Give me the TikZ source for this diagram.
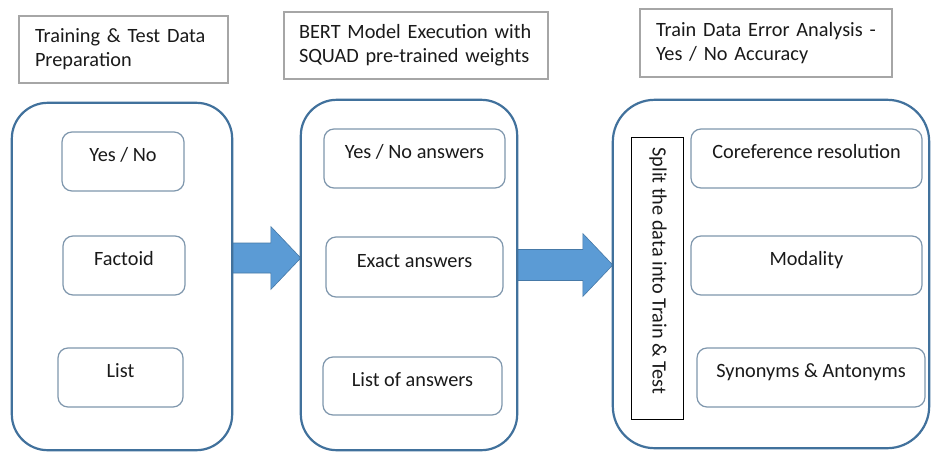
\documentclass[tikz,border=0pt]{standalone}
\usepackage{fontspec}
\setmainfont{Carlito}
\usetikzlibrary{calc}
\definecolor{contblue}{HTML}{41719C}
\definecolor{innerblue}{HTML}{7F97AD}
\definecolor{hdrgray}{HTML}{A6A6A6}
\definecolor{arrfill}{HTML}{5B9BD5}
\definecolor{txtcol}{HTML}{1A1A1A}
\tikzset{
  container/.style={draw=contblue, line width=2.2pt, rounded corners=36pt, inner sep=0pt},
  innerbox/.style={draw=innerblue, line width=1.2pt, rounded corners=10pt, inner sep=0pt},
  hdr/.style={draw=hdrgray, line width=2.4pt, inner sep=0pt, align=left, font=\fontsize{20.3}{24}\selectfont, text=txtcol},
  splitbox/.style={draw=black, line width=1pt, inner sep=0pt},
  txt/.style={font=\fontsize{20.3}{24}\selectfont, text=txtcol, inner sep=0pt},
  bigarrow/.style={fill=arrfill, draw=contblue!80!arrfill, line width=0.6pt}
}
\begin{document}
\begin{tikzpicture}[x=1pt,y=-1pt]
\useasboundingbox (0,0) rectangle (931,452);
\fill[white] (0,0) rectangle (931,452);

% header boxes
\node[hdr, minimum width=209pt, minimum height=67pt, text width=177pt] (H1) at (123.5,49.5) {Training \& Test Data\\Preparation};
\node[hdr, minimum width=264pt, minimum height=67pt, text width=234pt] (H2) at (416,45.5) {BERT Model Execution with\\SQUAD pre-trained weights};
\node[hdr, minimum width=252pt, minimum height=68pt, text width=220pt] (H3) at (766,43) {Train Data Error Analysis -\\Yes / No Accuracy};

% containers (borders only, drawn after arrows)
\path (122,276.5) node[minimum width=220pt, minimum height=347pt, inner sep=0pt] (L) {};
\path (409,275) node[minimum width=216pt, minimum height=350pt, inner sep=0pt] (M) {};
\path (771,274) node[minimum width=316pt, minimum height=348pt, inner sep=0pt] (R) {};

% arrows between containers
\coordinate (a1s) at (L.east |- 0,258);
\coordinate (a1e) at (M.west |- 0,258);
\coordinate (a2s) at (M.east |- 0,265);
\coordinate (a2e) at (R.west |- 0,265);
\draw[bigarrow] let \p1=(a1s), \p2=(a1e) in
  (\x1,\y1+15pt) -- (\x2-30pt,\y1+15pt) -- (\x2-30pt,\y1+31.5pt) -- (\x2,\y2)
  -- (\x2-30pt,\y1-31.5pt) -- (\x2-30pt,\y1-15pt) -- (\x1,\y1-15pt) -- cycle;
\draw[bigarrow] let \p1=(a2s), \p2=(a2e) in
  (\x1,\y1+15.5pt) -- (\x2-30pt,\y1+15.5pt) -- (\x2-30pt,\y1+31.5pt) -- (\x2,\y2)
  -- (\x2-30pt,\y1-31.5pt) -- (\x2-30pt,\y1-15.5pt) -- (\x1,\y1-15.5pt) -- cycle;

\draw[container] (L.north west) rectangle (L.south east);
\draw[container] (M.north west) rectangle (M.south east);
\draw[container, rounded corners=42pt] (R.north west) rectangle (R.south east);

% left inner boxes
\node[innerbox, minimum width=122pt, minimum height=59pt] (L1) at (123,161.5) {};
\node[innerbox, minimum width=122pt, minimum height=59pt] (L2) at (124,265.5) {};
\node[innerbox, minimum width=125pt, minimum height=59pt] (L3) at (120.5,377.5) {};
\node[txt, anchor=base] (L1t) at (L1.center) {Yes / No};
\node[txt, anchor=base] (L2t) at (L2.center) {Factoid};
\node[txt, anchor=base] (L3t) at (L3.center) {List};

% middle inner boxes
\node[innerbox, minimum width=181pt, minimum height=59pt] (M1) at (414.5,158.5) {};
\node[innerbox, minimum width=177pt, minimum height=60pt] (M2) at (414.5,267) {};
\node[innerbox, minimum width=179pt, minimum height=58pt] (M3) at (412.5,386) {};
\node[txt, anchor=base] (M1t) at (M1.center) {Yes / No answers};
\node[txt, anchor=base] (M2t) at (M2.center) {Exact answers};
\node[txt, anchor=base] (M3t) at (M3.center) {List of answers};

% right inner boxes
\node[innerbox, minimum width=231pt, minimum height=59pt] (R1) at (806.5,158.5) {};
\node[innerbox, minimum width=231pt, minimum height=59pt] (R2) at (806.5,265.5) {};
\node[innerbox, minimum width=228pt, minimum height=59pt] (R3) at (811,377.5) {};
\node[txt, anchor=base] (R1t) at (R1.center) {Coreference resolution};
\node[txt, anchor=base] (R2t) at (R2.center) {Modality};
\node[txt, anchor=base] (R3t) at (R3.center) {Synonyms \& Antonyms};

% split box with vertical text
\node[splitbox, minimum width=52pt, minimum height=282pt] (S) at (657,278) {};
\node[txt, rotate=-90] (St) at (658,271) {Split the data into Train \& Test};
\end{tikzpicture}
\end{document}
